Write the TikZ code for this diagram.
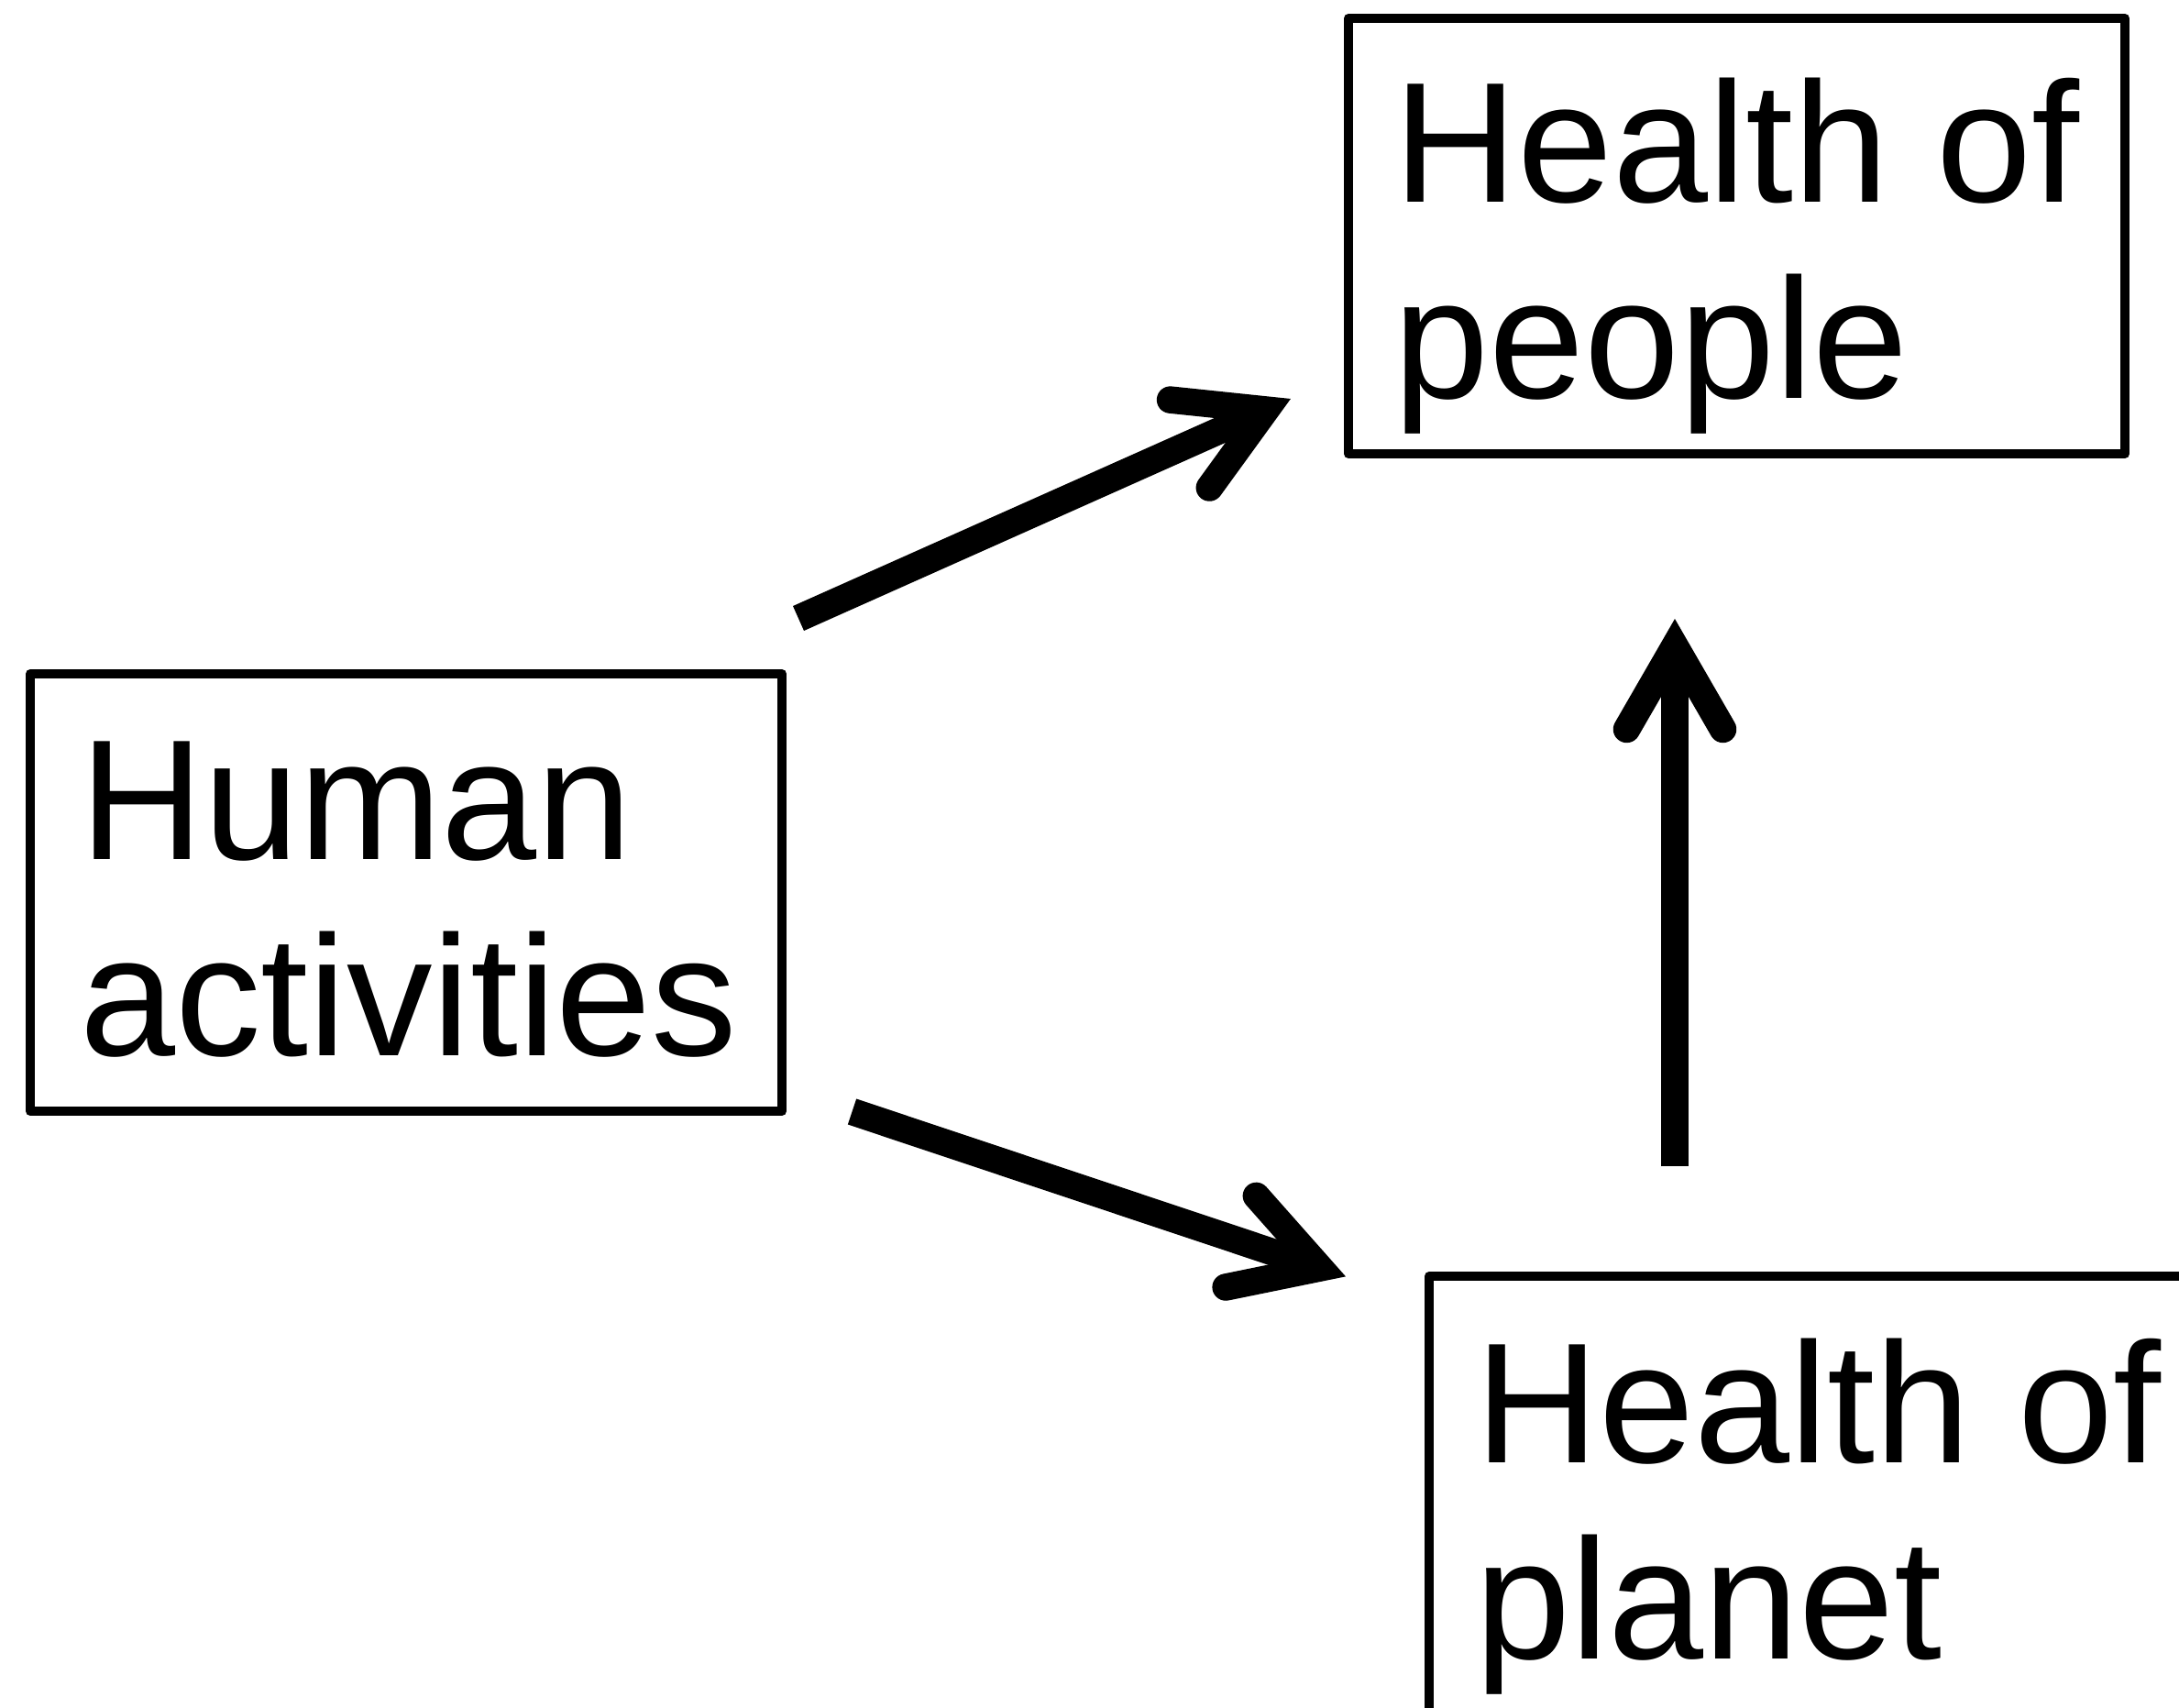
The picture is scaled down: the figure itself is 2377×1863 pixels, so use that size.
\documentclass[tikz,border=0pt]{standalone}
\usepackage{fontspec}
\setmainfont{Liberation Sans}
\usetikzlibrary{calc}
\tikzset{
  box/.style={draw=black, line width=10pt, line join=round, rectangle, inner sep=0pt},
  txt/.style={inner sep=0pt, anchor=base west, align=left, font=\fontsize{187}{214}\selectfont},
  shaft/.style={line width=29.5pt, line cap=butt},
  head/.style={line width=29.5pt, line cap=round, line join=miter}
}
\begin{document}
\begin{tikzpicture}[x=1pt,y=-1pt]
\useasboundingbox (0,0) rectangle (2377,1863);
\clip (0,0) rectangle (2377,1863);
% boxes
\node[box, minimum width=820pt, minimum height=477pt] (human) at (443,973.5) {};
\node[box, minimum width=847pt, minimum height=475pt] (people) at (1894.5,257.5) {};
\node[box, minimum width=900pt, minimum height=600pt] (planet) at (2009,1692) {};
% texts (base = baseline of the last line)
\node[txt] (humant) at (87,1151) {Human\\activities};
\node[txt] (peoplet) at (1520,434) {Health of\\people};
\node[txt] (planett) at (1609,1809) {Health of\\planet};
% arrow anchors
\coordinate (a1s) at (871,674.5);
\coordinate (a1e) at (1381,447);
\coordinate (a2s) at (929.5,1212.5);
\coordinate (a2e) at (1440,1383);
\coordinate (a3s) at (1827,1272);
\coordinate (a3e) at (1827,704.5);
% arrows
\draw[shaft] (a1s) -- (a1e);
\draw[head] ($(a1e)!105pt!30:(a1s)$) -- (a1e) -- ($(a1e)!105pt!-30:(a1s)$);
\draw[shaft] (a2s) -- (a2e);
\draw[head] ($(a2e)!105pt!30:(a2s)$) -- (a2e) -- ($(a2e)!105pt!-30:(a2s)$);
\draw[shaft] (a3s) -- (a3e);
\draw[head] ($(a3e)!105pt!30:(a3s)$) -- (a3e) -- ($(a3e)!105pt!-30:(a3s)$);
\end{tikzpicture}
\end{document}
